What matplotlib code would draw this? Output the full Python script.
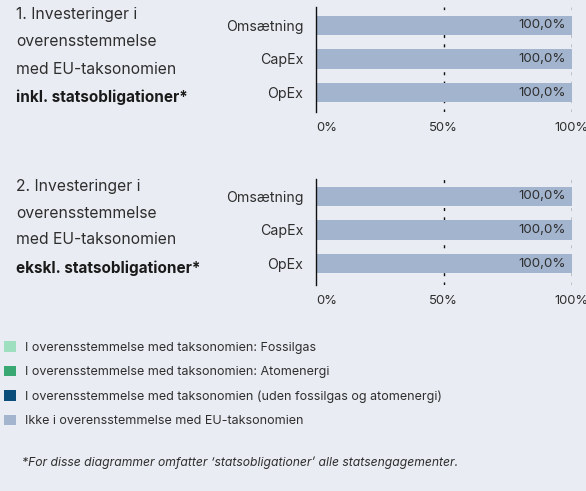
import matplotlib
matplotlib.use("Agg")
import matplotlib.pyplot as plt
from matplotlib.patches import Patch

plt.rcParams['font.family'] = ['Inter', 'DejaVu Sans']

BG = '#e9edf3'
TXT = '#2e2e2e'

categories = ['Omsætning', 'CapEx', 'OpEx']
incl_sovereign = [100.0, 100.0, 100.0]
excl_sovereign = [100.0, 100.0, 100.0]
tick_values = [0, 50, 100]
tick_labels = ['0%', '50%', '100%']

title_1 = ['1. Investeringer i', 'overensstemmelse', 'med EU-taksonomien']
title_1_bold = 'inkl. statsobligationer*'
title_2 = ['2. Investeringer i', 'overensstemmelse', 'med EU-taksonomien']
title_2_bold = 'ekskl. statsobligationer*'

legend_labels = [
    'I overensstemmelse med taksonomien: Fossilgas',
    'I overensstemmelse med taksonomien: Atomenergi',
    'I overensstemmelse med taksonomien (uden fossilgas og atomenergi)',
    'Ikke i overensstemmelse med EU-taksonomien',
]
legend_colors = ['#9ddfbf', '#3aa872', '#0b4d7a', '#a3b4ce']
bar_color = legend_colors[3]
footnote = "*For disse diagrammer omfatter \u2018statsobligationer\u2019 alle statsengagementer."

W, H = 586, 491
fig = plt.figure(figsize=(W / 100, H / 100), dpi=100, facecolor=BG)


def px_axes(x0, x1, top, bottom):
    return fig.add_axes([x0 / W, 1 - bottom / H, (x1 - x0) / W, (bottom - top) / H])


def draw_panel(ax, values, ylim):
    ax.set_facecolor(BG)
    for x in (50, 100):
        ax.axvline(x, color='#111111', lw=1.0, ls=(0, (2.2, 4.5)), zorder=1)
    ypos = list(range(len(categories)))
    ax.barh(ypos, values, height=0.57, color=bar_color, zorder=2)
    for y, v in zip(ypos, values):
        ax.text(v - 2.3, y, f"{v:.1f}%".replace('.', ','), ha='right', va='center',
                fontsize=9.6, color=TXT, zorder=3)
    ax.set_xlim(0, 100)
    ax.set_ylim(*ylim)
    ax.set_yticks(ypos)
    ax.set_yticklabels(categories, fontsize=10.2, color=TXT)
    ax.set_xticks(tick_values)
    ax.set_xticklabels(tick_labels, fontsize=9.4, color=TXT)
    ax.get_xticklabels()[0].set_horizontalalignment('left')
    ax.tick_params(axis='both', length=0)
    ax.tick_params(axis='y', pad=9)
    ax.tick_params(axis='x', pad=7.5)
    for s in ('top', 'right', 'bottom'):
        ax.spines[s].set_visible(False)
    ax.spines['left'].set_color('#111111')
    ax.spines['left'].set_linewidth(1.0)


ax1 = px_axes(316, 571.5, 7, 112)
draw_panel(ax1, incl_sovereign, (2.58, -0.55))
ax2 = px_axes(316, 571.5, 179, 285)
draw_panel(ax2, excl_sovereign, (2.64, -0.52))


def draw_title(lines, bold, top):
    for i, line in enumerate(lines):
        fig.text(16 / W, 1 - (top + 27 * i) / H, line, fontsize=11.3, color=TXT,
                 ha='left', va='center')
    fig.text(16 / W, 1 - (top + 27 * len(lines) + 1) / H, bold, fontsize=11.0,
             color='#1a1a1a', fontweight='bold', ha='left', va='center')


draw_title(title_1, title_1_bold, 15)
draw_title(title_2, title_2_bold, 186)

handles = [Patch(facecolor=c, edgecolor='none') for c in legend_colors]
fig.legend(handles, legend_labels, loc='upper left', bbox_to_anchor=(-1 / W, 1 - 336 / H),
           frameon=False, fontsize=9, handlelength=0.95, handleheight=0.95,
           handletextpad=0.75, labelspacing=0.95, borderaxespad=0, labelcolor=TXT)

fig.text(22 / W, 1 - 463 / H, footnote, fontsize=8.75, style='italic', color=TXT,
         ha='left', va='center')

fig.savefig('out.png', dpi=100, facecolor=BG)
